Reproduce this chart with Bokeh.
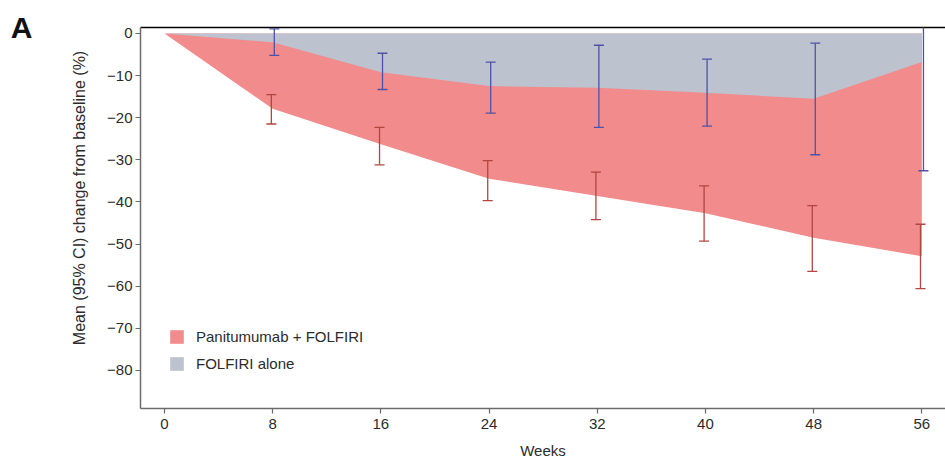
import math
from bokeh.plotting import figure
from bokeh.models import (ColumnDataSource, Whisker, TeeHead, Range1d,
                          FixedTicker, LinearAxis, Legend, LegendItem)
from bokeh.transform import dodge
from bokeh.embed import file_html
from bokeh.resources import INLINE

# ---- data ----
weeks = [0, 8, 16, 24, 32, 40, 48, 56]
pan_mean = [0, -17.9, -26.3, -34.5, -38.6, -42.7, -48.5, -52.9]
fol_mean = [0, -2.1, -9.2, -12.5, -12.9, -14.1, -15.5, -6.8]

ci_weeks = [8, 16, 24, 32, 40, 48, 56]
pan_lo = [-21.5, -31.2, -39.7, -44.2, -49.3, -56.5, -60.6]
pan_hi = [-14.5, -22.3, -30.2, -32.9, -36.2, -40.9, -45.3]
fol_lo = [-5.2, -13.3, -18.9, -22.3, -22.0, -28.8, -32.6]
fol_hi = [1.1, -4.7, -6.8, -2.8, -6.1, -2.3, 18.8]

x_ticks = [0, 8, 16, 24, 32, 40, 48, 56]
y_ticks = [0, -10, -20, -30, -40, -50, -60, -70, -80]
y_tick_labels = {t: ("0" if t == 0 else "\u2212" + str(-t)) for t in y_ticks}

series_names = ["Panitumumab + FOLFIRI", "FOLFIRI alone"]
y_title = "Mean (95% CI) change from baseline (%)"
x_title = "Weeks"
panel_letter = "A"

RED_FILL = "#f28b8b"
GREY_FILL = "#bcc3cf"
RED_BAR = "#b0463f"
BLUE_BAR = "#4e52a6"
FONT = "Liberation Sans"
TEXT = "#2b2b2b"
AXIS = "#6b6b6b"

p = figure(width=945, height=461, output_backend="svg", toolbar_location=None,
           x_range=Range1d(-1.775, 57.75), y_range=Range1d(-89.05, 1.42),
           min_border_left=140, min_border_right=0, min_border_top=27,
           min_border_bottom=52, background_fill_color="white",
           border_fill_color="white")
p.outline_line_color = None
p.grid.visible = False

area = ColumnDataSource(dict(weeks=weeks, pan=pan_mean, fol=fol_mean,
                             zero=[0] * len(weeks)))
r_red = p.varea(x="weeks", y1="zero", y2="pan", source=area,
                fill_color=RED_FILL, fill_alpha=1.0)
r_grey = p.varea(x="weeks", y1="zero", y2="fol", source=area,
                 fill_color=GREY_FILL, fill_alpha=1.0)

ci = ColumnDataSource(dict(weeks=ci_weeks, pan_lo=pan_lo, pan_hi=pan_hi,
                           fol_lo=fol_lo, fol_hi=fol_hi))

def whisker(lo, hi, color, offset):
    w = Whisker(source=ci, base=dodge("weeks", offset), lower=lo, upper=hi,
                line_color=color, line_width=1.3, level="overlay",
                upper_head=TeeHead(size=10, line_color=color, line_width=1.3),
                lower_head=TeeHead(size=10, line_color=color, line_width=1.3))
    p.add_layout(w)

whisker("pan_lo", "pan_hi", RED_BAR, -0.1)
whisker("fol_lo", "fol_hi", BLUE_BAR, 0.12)

# main axes
for ax in (p.xaxis[0], p.yaxis[0]):
    ax.axis_line_color = AXIS
    ax.axis_line_width = 1.5
    ax.major_tick_line_color = AXIS
    ax.major_tick_line_width = 1.2
    ax.major_tick_out = 5
    ax.major_tick_in = 0
    ax.minor_tick_line_color = None
    ax.major_label_text_font = FONT
    ax.major_label_text_font_size = "15px"
    ax.major_label_text_color = TEXT

p.xaxis.ticker = FixedTicker(ticks=x_ticks)
p.yaxis.ticker = FixedTicker(ticks=y_ticks)
p.yaxis.major_label_overrides = y_tick_labels
p.xaxis.major_label_standoff = 5
p.yaxis.major_label_standoff = 3
p.xaxis.axis_label = x_title
p.xaxis.axis_label_text_font = FONT
p.xaxis.axis_label_text_font_size = "15px"
p.xaxis.axis_label_text_font_style = "normal"
p.xaxis.axis_label_text_color = TEXT
p.xaxis.axis_label_standoff = 10

# y title: an extra left axis that only carries the label; leading no-break
# spaces lift the visible text so it is centred on the tick span as in the reference
ytitle_axis = LinearAxis(axis_line_color=None, major_tick_line_color=None,
                         minor_tick_line_color=None,
                         major_label_text_font_size="0px",
                         ticker=FixedTicker(ticks=[]),
                         axis_label="\u00a0" * 9 + y_title,
                         axis_label_standoff=17,
                         axis_label_text_font=FONT,
                         axis_label_text_font_size="16px",
                         axis_label_text_font_style="normal",
                         axis_label_text_color=TEXT)
p.add_layout(ytitle_axis, "left")

# panel letter
letter_axis = LinearAxis(axis_line_color=None, major_tick_line_color=None,
                         minor_tick_line_color=None,
                         major_label_text_font_size="0px",
                         ticker=FixedTicker(ticks=[]),
                         axis_label=panel_letter, axis_label_standoff=35,
                         axis_label_orientation="horizontal",
                         axis_label_align="end",
                         axis_label_text_font=FONT,
                         axis_label_text_font_size="30px",
                         axis_label_text_font_style="bold",
                         axis_label_text_color="#111111")
p.add_layout(letter_axis, "left")

# top border line
top = LinearAxis(axis_line_color="black", axis_line_width=1.5,
                 major_tick_line_color=None, minor_tick_line_color=None,
                 major_label_text_font_size="0px", ticker=FixedTicker(ticks=[]))
p.add_layout(top, "above")

legend = Legend(items=[LegendItem(label=series_names[0], renderers=[r_red]),
                       LegendItem(label=series_names[1], renderers=[r_grey])],
                location=(28, 36), orientation="vertical",
                border_line_color=None, background_fill_alpha=0,
                padding=0, margin=0, spacing=10, glyph_width=17,
                glyph_height=17, label_standoff=11, label_height=17,
                label_text_font=FONT, label_text_font_size="15px",
                label_text_color=TEXT)
p.add_layout(legend, "center")

open("out.html", "w").write(file_html(p, INLINE))
